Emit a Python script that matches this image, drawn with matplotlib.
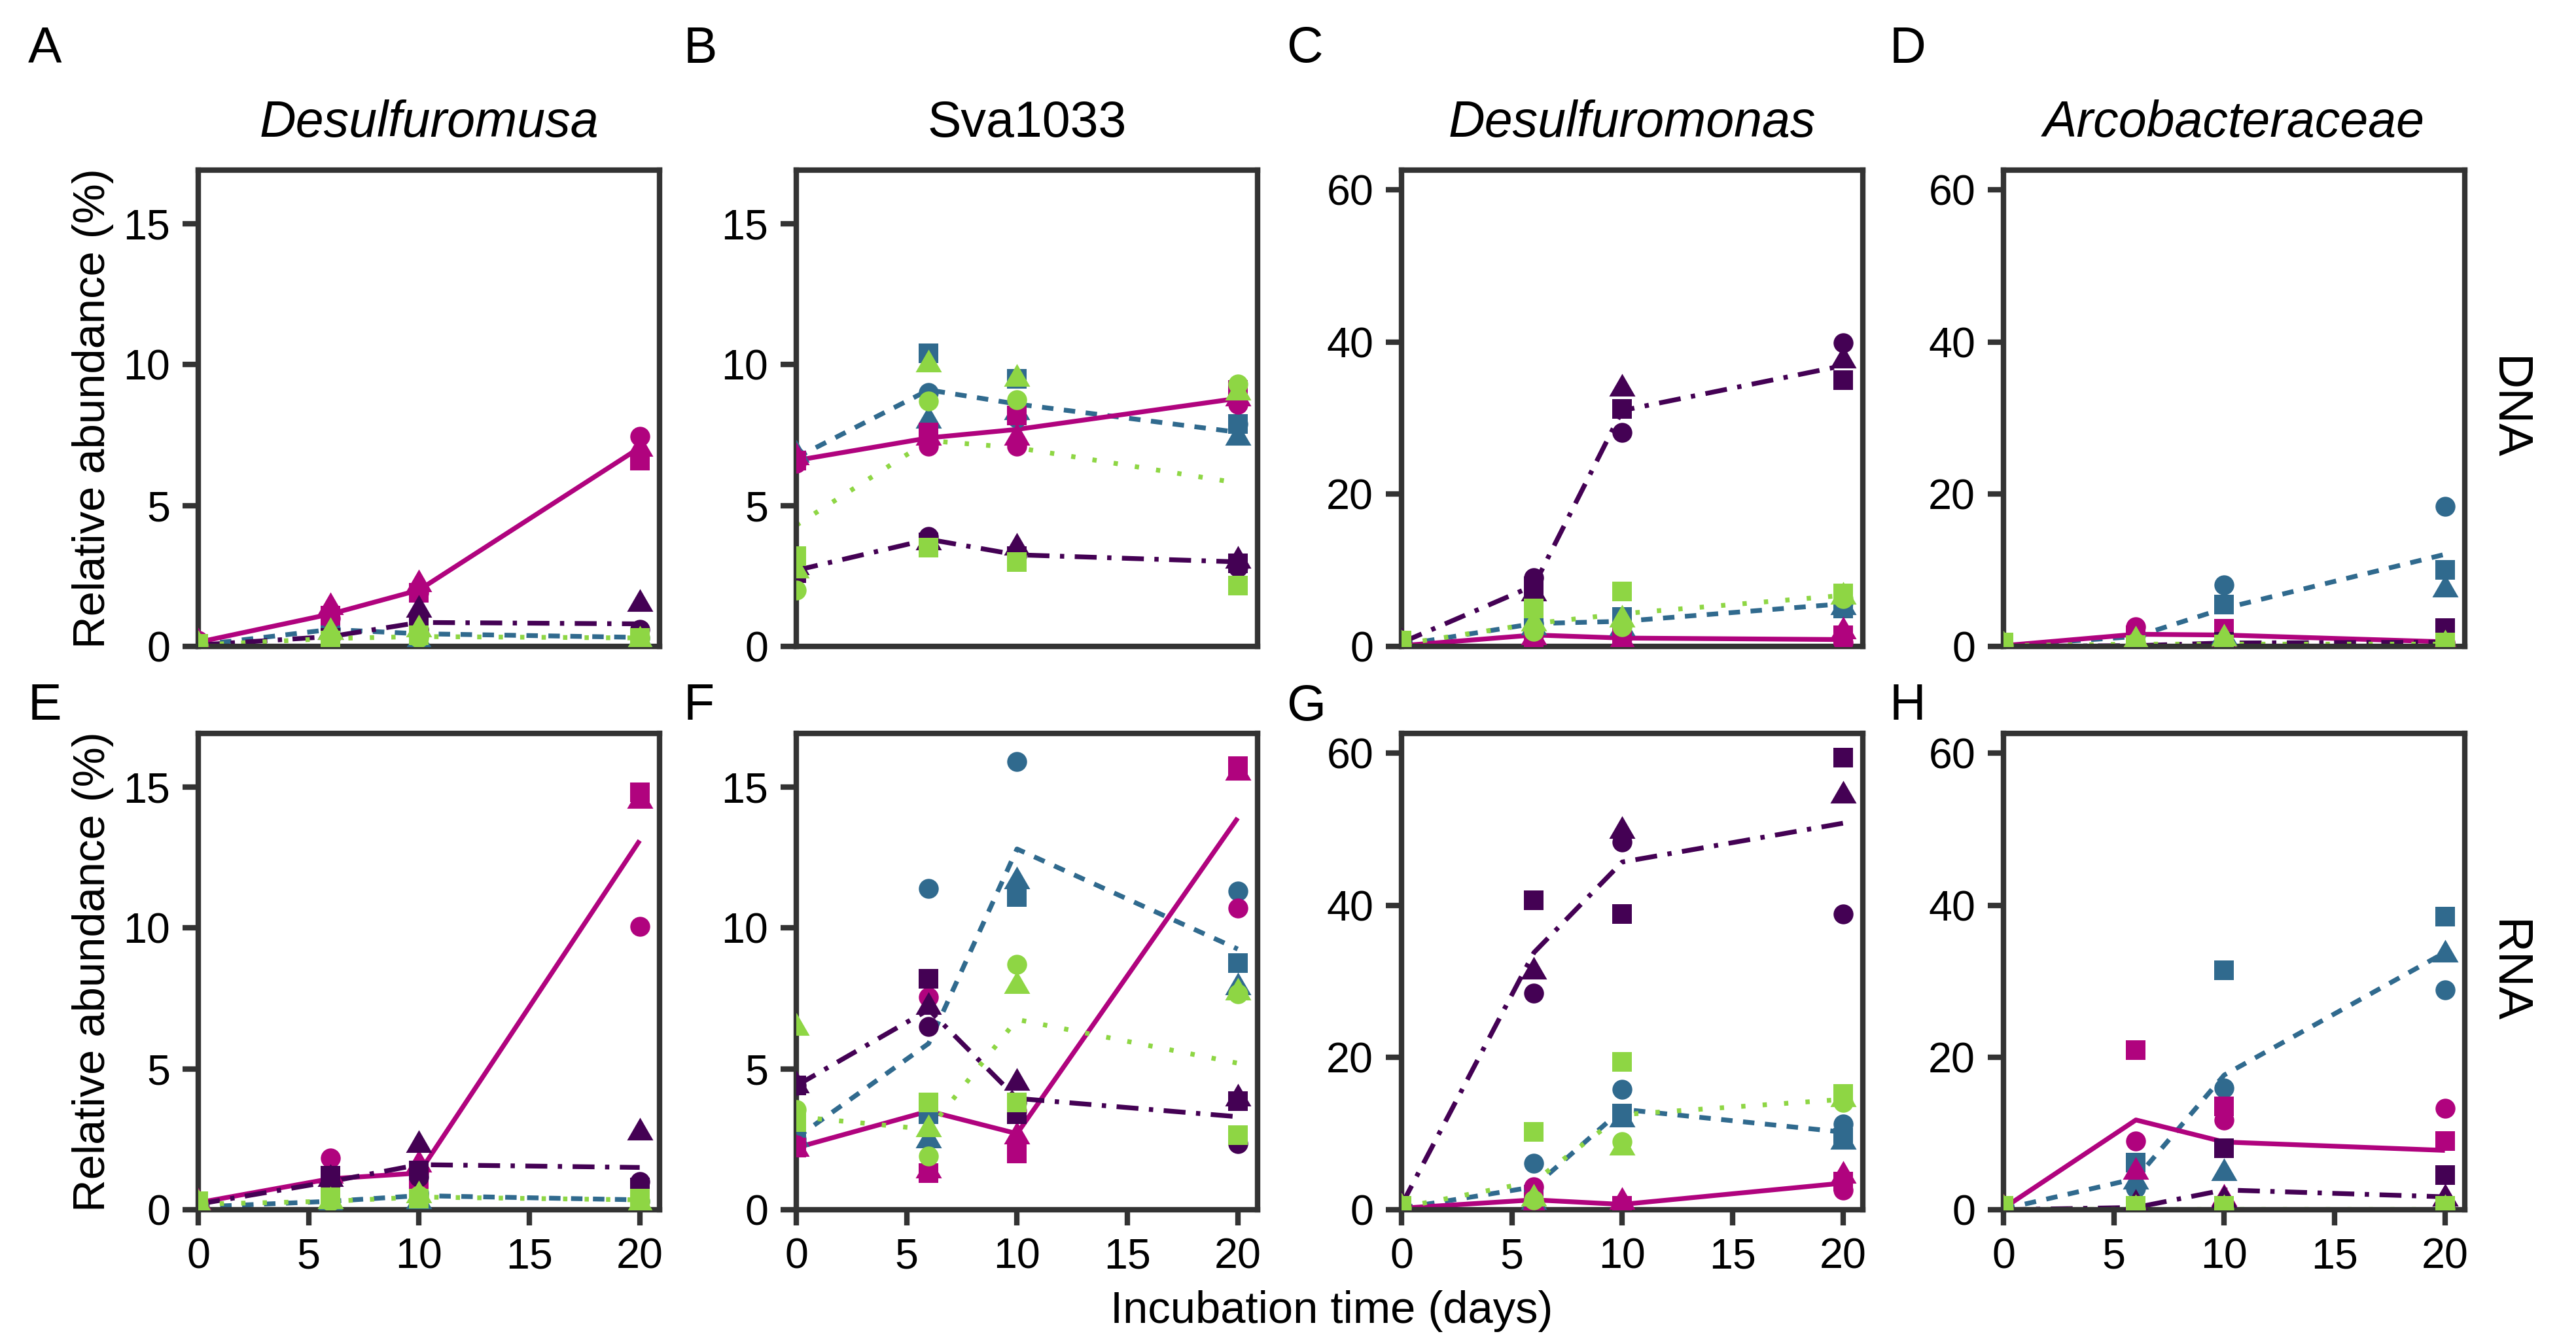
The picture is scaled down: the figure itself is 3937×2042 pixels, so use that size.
import matplotlib
matplotlib.use('Agg')
import matplotlib.pyplot as plt
from matplotlib.path import Path

plt.rcParams['font.family'] = ['Liberation Sans', 'DejaVu Sans']

# ---------------- data ----------------
DAYS = [0, 6, 10, 20]
# each series: [circle replicate, square replicate, triangle replicate]; *_line = plotted line values

# A  Desulfuromusa DNA
A_mag = [[0.2, 1.0, 1.9, 7.45], [0.1, 1.1, 1.9, 6.6], [0.15, 1.4, 2.2, 7.0]]
A_mag_line = [0.15, 1.15, 2.0, 7.05]
A_pur = [[0.05, 0.3, 0.6, 0.6], [0.05, 0.3, 0.7, 0.3], [0.05, 0.5, 1.3, 1.5]]
A_pur_line = [0.05, 0.35, 0.85, 0.8]
A_blu = [[0.05, 0.6, 0.4, 0.3], [0.05, 0.9, 0.8, 0.3], [0.05, 0.5, 0.2, 0.2]]
A_blu_line = [0.05, 0.6, 0.45, 0.32]
A_grn = [[0.05, 0.3, 0.3, 0.3], [0.1, 0.2, 0.4, 0.3], [0.05, 0.5, 0.6, 0.2]]
A_grn_line = [0.05, 0.28, 0.35, 0.3]

# B  Sva1033 DNA
B_mag = [[6.5, 7.1, 7.1, 8.6], [6.6, 7.6, 8.2, 9.1], [6.7, 7.4, 7.4, 8.8]]
B_mag_line = [6.6, 7.4, 7.7, 8.8]
B_pur = [[2.7, 3.9, 3.2, 2.8], [2.6, 3.7, 3.2, 2.95], [2.8, 3.7, 3.5, 3.05]]
B_pur_line = [2.7, 3.8, 3.25, 3.0]
B_blu = [[6.7, 9.0, 8.1, 7.9], [6.6, 10.4, 9.5, 7.9], [6.8, 8.0, 8.3, 7.4]]
B_blu_line = [6.7, 9.1, 8.6, 7.6]
B_grn = [[2.0, 8.7, 8.75, 9.3], [3.2, 3.5, 3.0, 2.15], [2.7, 10.0, 9.5, 9.0]]
B_grn_line = [4.3, 7.3, 7.05, 5.8]

# C  Desulfuromonas DNA
C_mag = [[0.2, 1.5, 1.0, 0.5], [0.2, 1.0, 1.3, 1.5], [0.2, 1.2, 0.8, 2.0]]
C_mag_line = [0.1, 1.5, 1.1, 0.9]
C_pur = [[0.5, 9.0, 28.1, 39.9], [0.5, 7.9, 31.2, 35.0], [0.5, 7.0, 33.9, 37.6]]
C_pur_line = [0.5, 8.0, 31.0, 36.9]
C_blu = [[0.2, 3.0, 2.8, 5.8], [0.2, 3.9, 3.9, 5.0], [0.2, 2.5, 2.4, 5.2]]
C_blu_line = [0.2, 3.0, 3.3, 5.6]
C_grn = [[0.3, 2.0, 2.6, 6.3], [0.8, 5.0, 7.2, 7.0], [0.3, 3.0, 3.5, 6.5]]
C_grn_line = [0.3, 3.0, 4.3, 6.7]

# D  Arcobacteraceae DNA
D_mag = [[0.1, 2.6, 1.5, 0.5], [0.1, 1.5, 2.3, 0.6], [0.1, 0.8, 0.8, 0.5]]
D_mag_line = [0.1, 1.6, 1.5, 0.6]
D_pur = [[0.0, 0.1, 0.5, 0.3], [0.0, 0.1, 0.6, 2.4], [0.0, 0.1, 0.4, 0.3]]
D_pur_line = [0.0, 0.1, 0.45, 0.55]
D_blu = [[0.1, 1.5, 8.1, 18.4], [0.1, 1.0, 5.5, 10.1], [0.1, 0.7, 1.3, 7.5]]
D_blu_line = [0.1, 1.3, 5.0, 12.1]
D_grn = [[0.1, 0.5, 0.5, 0.3], [0.5, 0.2, 0.3, 0.5], [0.1, 0.8, 1.0, 0.3]]
D_grn_line = [0.1, 0.3, 0.3, 0.3]

# E  Desulfuromusa RNA
E_mag = [[0.3, 1.83, 1.3, 10.05], [0.2, 1.0, 1.0, 14.8], [0.25, 1.2, 1.6, 14.5]]
E_mag_line = [0.25, 1.1, 1.3, 13.1]
E_pur = [[0.2, 0.9, 1.15, 1.0], [0.2, 1.2, 1.4, 0.8], [0.2, 1.1, 2.3, 2.75]]
E_pur_line = [0.2, 1.0, 1.6, 1.5]
E_blu = [[0.1, 0.3, 0.6, 0.3], [0.1, 0.4, 0.5, 0.4], [0.1, 0.2, 0.3, 0.1]]
E_blu_line = [0.1, 0.3, 0.5, 0.35]
E_grn = [[0.2, 0.3, 0.5, 0.3], [0.3, 0.45, 0.4, 0.4], [0.2, 0.3, 0.5, 0.2]]
E_grn_line = [0.2, 0.3, 0.45, 0.35]

# F  Sva1033 RNA
F_mag = [[2.3, 7.55, 3.5, 10.7], [2.2, 1.3, 2.0, 15.75], [2.15, 1.4, 2.6, 15.5]]
F_mag_line = [2.2, 3.5, 2.7, 13.9]
F_pur = [[4.4, 6.5, 3.8, 2.35], [4.4, 8.2, 3.4, 3.85], [4.4, 7.2, 4.5, 3.95]]
F_pur_line = [4.4, 7.1, 3.95, 3.3]
F_blu = [[2.5, 11.4, 15.9, 11.3], [2.5, 3.4, 11.1, 8.75], [2.5, 2.45, 11.65, 7.9]]
F_blu_line = [2.55, 5.9, 12.8, 9.25]
F_grn = [[3.55, 1.9, 8.7, 7.65], [3.1, 3.8, 3.8, 2.65], [6.45, 2.85, 7.95, 7.7]]
F_grn_line = [3.3, 2.85, 6.75, 5.2]

# G  Desulfuromonas RNA
G_mag = [[0.2, 3.0, 0.7, 2.6], [0.2, 1.0, 0.5, 3.7], [0.2, 0.5, 1.0, 4.5]]
G_mag_line = [0.2, 1.3, 0.7, 3.5]
G_pur = [[0.5, 28.5, 48.3, 38.9], [0.5, 40.7, 38.9, 59.4], [0.5, 31.3, 49.8, 54.4]]
G_pur_line = [0.6, 33.8, 45.7, 50.8]
G_blu = [[0.2, 6.1, 15.8, 11.25], [0.2, 2.0, 12.6, 9.5], [0.2, 1.0, 11.9, 8.9]]
G_blu_line = [0.2, 3.0, 13.2, 10.2]
G_grn = [[0.3, 1.3, 8.9, 14.1], [0.5, 10.2, 19.4, 15.2], [0.3, 1.5, 8.2, 14.5]]
G_grn_line = [0.3, 3.7, 12.5, 14.5]

# H  Arcobacteraceae RNA
H_mag = [[0.2, 9.0, 11.8, 13.3], [0.2, 21.0, 13.6, 9.0], [0.2, 5.0, 1.5, 1.5]]
H_mag_line = [0.2, 11.8, 8.9, 7.8]
H_pur = [[0.0, 0.0, 0.0, 0.3], [0.0, 0.2, 8.1, 4.6], [0.0, 0.8, 1.3, 1.5]]
H_pur_line = [0.0, 0.3, 2.6, 1.7]
H_blu = [[0.1, 2.8, 16.0, 28.9], [0.1, 6.15, 31.5, 38.5], [0.1, 3.7, 4.8, 33.5]]
H_blu_line = [0.1, 4.1, 17.7, 33.8]
H_grn = [[0.1, 0.1, 0.1, 0.1], [0.5, 0.5, 0.5, 0.5], [0.1, 0.1, 0.1, 0.1]]
H_grn_line = [0.1, 0.1, 0.1, 0.1]

PANELS = ['A', 'B', 'C', 'D', 'E', 'F', 'G', 'H']
TITLES = ['Desulfuromusa', 'Sva1033', 'Desulfuromonas', 'Arcobacteraceae']
TITLE_ITALIC = [True, False, True, True]
ROW_LABELS = ['DNA', 'RNA']
Y_TICKS_SMALL = [0, 5, 10, 15]
Y_TICKS_LARGE = [0, 20, 40, 60]
X_TICKS = [0, 5, 10, 15, 20]

# ---------------- styling ----------------
SERIES_ORDER = ['blu', 'mag', 'pur', 'grn']
COLORS = {'mag': '#B0037E', 'pur': '#440154', 'blu': '#306A8E', 'grn': '#8ED644'}
LW = 1.75
LINESTYLES = {'mag': '-',
              'pur': (0, (4.6, 2.2, 0.9, 2.2)),
              'blu': (0, (2.4, 2.2)),
              'grn': (0, (0.9, 3.6))}
# equilateral triangle centred on its centroid
TRIANGLE = Path([(0, 1), (0.866, -0.5), (-0.866, -0.5), (0, 1)],
                [Path.MOVETO, Path.LINETO, Path.LINETO, Path.CLOSEPOLY])
MARKERS = ['o', 's', TRIANGLE]
MSIZE = [7.3, 7.3, 11.1]
REP_ORDER = [2, 0, 1]  # triangle, circle, square
SPINE = '#333333'

W, H = 3937, 2042
DPI = 300
fig = plt.figure(figsize=(W / DPI, H / DPI), dpi=DPI)

col_left = [303, 1217, 2142, 3062]
ax_w = 705
row_top = [260, 1121]
ax_h = 728

for idx, p in enumerate(PANELS):
    r, c = divmod(idx, 4)
    l = col_left[c]
    t = row_top[r]
    ax = fig.add_axes([l / W, 1 - (t + ax_h) / H, ax_w / W, ax_h / H])
    for s in SERIES_ORDER:
        line_vals = globals()[f'{p}_{s}_line']
        ax.plot(DAYS, line_vals, color=COLORS[s], linestyle=LINESTYLES[s],
                linewidth=LW, zorder=2, dash_capstyle='butt', solid_capstyle='butt')
    for s in SERIES_ORDER:
        reps = globals()[f'{p}_{s}']
        for k in REP_ORDER:
            ax.plot(DAYS, reps[k], linestyle='none', marker=MARKERS[k],
                    markersize=MSIZE[k], color=COLORS[s], markeredgewidth=0,
                    zorder=3)
    ax.set_xlim(0, 20.9)
    if c < 2:
        ax.set_ylim(0, 16.9)
        ax.set_yticks(Y_TICKS_SMALL)
    else:
        ax.set_ylim(0, 62.6)
        ax.set_yticks(Y_TICKS_LARGE)
    ax.set_xticks(X_TICKS)
    for sp in ax.spines.values():
        sp.set_color(SPINE)
        sp.set_linewidth(2.0)
    ax.tick_params(axis='both', length=5.8, width=2.0, color=SPINE,
                   labelsize=15.5, pad=4.5, labelcolor='black')
    if r == 0:
        ax.tick_params(axis='x', bottom=False, labelbottom=False)

    # panel letter
    lx = [43, 1045, 1966, 2888][c]
    ly = [75, 1080][r]
    fig.text(lx / W, 1 - ly / H, p, fontsize=18.5, ha='left', va='center')

# column titles
for c, (title, it) in enumerate(zip(TITLES, TITLE_ITALIC)):
    cx = (col_left[c] + ax_w / 2) / W
    fig.text(cx, 1 - 188 / H, title, fontsize=18.5, ha='center', va='center',
             style='italic' if it else 'normal')

# row labels
for r, lab in enumerate(ROW_LABELS):
    cy = 1 - (row_top[r] + ax_h / 2) / H
    fig.text(3832 / W, cy, lab, fontsize=18, rotation=270, ha='center', va='center')

# y labels
for r in range(2):
    cy = 1 - (row_top[r] + ax_h / 2) / H
    fig.text(142 / W, cy, 'Relative abundance (%)', fontsize=16.5, rotation=90,
             ha='center', va='center')

# x label
fig.text(((col_left[0] + col_left[3] + ax_w) / 2) / W, 1 - 2004 / H,
         'Incubation time (days)', fontsize=16.5, ha='center', va='center')

fig.savefig('out.png', dpi=DPI, facecolor='white')
